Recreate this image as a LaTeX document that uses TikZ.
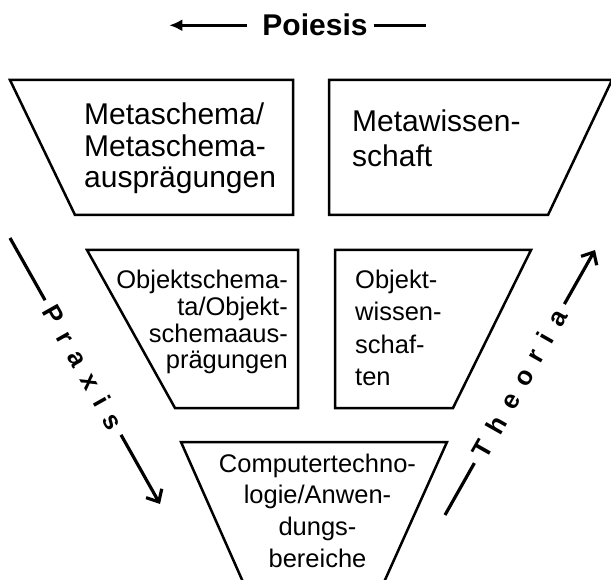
\documentclass[tikz,border=0pt]{standalone}
\usepackage{fontspec}
\setmainfont{Liberation Sans}
\usetikzlibrary{arrows.meta,calc}
\newcommand\lsp{\kern12pt}
\begin{document}
\begin{tikzpicture}[x=1pt,y=-1pt,
  box/.style={draw,line width=2.5pt,line join=miter},
  big/.style={font=\fontsize{30}{34}\selectfont,inner sep=0pt},
  small/.style={font=\fontsize{25.5}{30}\selectfont,inner sep=0pt},
  conn/.style={line width=3.2pt},
  barb/.style={-{Straight Barb[length=10pt,width=18pt,line width=3.2pt]}},
  spaced/.style={font=\bfseries\fontsize{26}{29}\selectfont,inner sep=0pt}]
\useasboundingbox (0,0) rectangle (611,580);
\clip (0,0) rectangle (611,580);

% trapezoid frames
\draw[box] (10,80) -- (293,80) -- (293,215) -- (75,215) -- cycle;
\draw[box] (329,80) -- (612,80) -- (548,215) -- (329,215) -- cycle;
\draw[box] (87,250) -- (298,250) -- (298,408) -- (175,408) -- cycle;
\draw[box] (335,250) -- (531,250) -- (453,408) -- (335,408) -- cycle;
\draw[box] (181,442) -- (447,442) -- (376,600) -- (251,600) -- cycle;

% Metaschema
\node[big,anchor=base west] (ms1) at (84,125) {Metaschema/};
\node[big,anchor=base west] (ms2) at (84,157) {Metaschema-};
\node[big,anchor=base west] (ms3) at (84,188) {ausprägungen};

% Metawissenschaft
\node[big,anchor=base west] (mw1) at (352,132) {Metawissen-};
\node[big,anchor=base west] (mw2) at (352,167) {schaft};

% Objektschemata
\node[small,anchor=base east] (os1) at (288,289) {Objektschema-};
\node[small,anchor=base east] (os2) at (288,316) {ta/Objekt-};
\node[small,anchor=base east] (os3) at (288,342.5) {schemaaus-};
\node[small,anchor=base east] (os4) at (288,369) {prägungen};

% Objektwissenschaften
\node[small,anchor=base west] (ow1) at (355,289) {Objekt-};
\node[small,anchor=base west] (ow2) at (355,321) {wissen-};
\node[small,anchor=base west] (ow3) at (355,353) {schaf-};
\node[small,anchor=base west] (ow4) at (355,385) {ten};

% Computertechnologie
\node[small,anchor=base] (ct1) at (317.5,472) {Computertechno-};
\node[small,anchor=base] (ct2) at (317.5,503) {logie/Anwen-};
\node[small,anchor=base] (ct3) at (317.5,535) {dungs-};
\node[small,anchor=base] (ct4) at (317.5,567) {bereiche};

% Poiesis
\node[font=\bfseries\fontsize{30}{34}\selectfont,inner sep=0pt,anchor=base] (poiesis) at (315,36) {Poiesis};
\draw[conn,-{Latex[length=13pt,width=12pt]}] ([xshift=-15pt]poiesis.west) -- ++(-78,0);
\draw[conn] ([xshift=6pt]poiesis.east) -- ++(52,0);

% Praxis
\coordinate (pxa) at (10,238);
\coordinate (pxb) at (160,504);
\draw[conn] (pxa) -- ($(pxa)!0.234!(pxb)$);
\draw[conn,barb] ($(pxa)!0.74!(pxb)$) -- (pxb);
\node[spaced,rotate=-60.6] (praxis) at ($(pxa)!0.487!(pxb)$) {P\lsp r\lsp a\lsp x\lsp i\lsp s};

% Theoria
\coordinate (tha) at (445,515);
\coordinate (thb) at (595,250);
\draw[conn] (tha) -- ($(tha)!0.196!(thb)$);
\draw[conn,barb] ($(tha)!0.796!(thb)$) -- (thb);
\node[spaced,rotate=60.5] (theoria) at ($(tha)!0.496!(thb)$) {T\lsp h\lsp e\lsp o\lsp r\lsp i\lsp a};
\end{tikzpicture}
\end{document}
